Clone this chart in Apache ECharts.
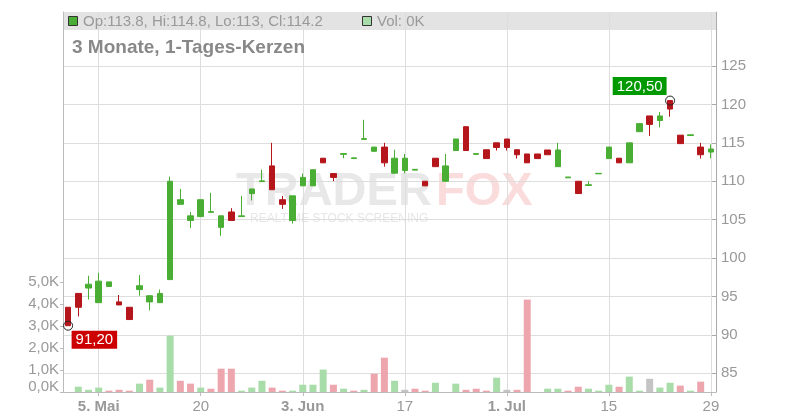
<!DOCTYPE html>
<html><head><meta charset="utf-8">
<script src="https://cdn.jsdelivr.net/npm/echarts@6/dist/echarts.min.js"></script>
<style>html,body{margin:0;padding:0;background:#fff}#c{width:800px;height:420px}</style>
</head><body><div id="c"></div>
<script>
const categories = ['29.04','30.04','02.05','05.05','06.05','07.05','09.05','12.05','13.05','14.05','15.05','16.05','19.05','20.05','21.05','22.05','23.05','26.05','27.05','28.05','29.05','30.05','02.06','03.06','04.06','05.06','06.06','09.06','10.06','11.06','12.06','13.06','16.06','17.06','18.06','19.06','20.06','23.06','24.06','25.06','26.06','27.06','30.06','01.07','02.07','03.07','04.07','07.07','08.07','09.07','10.07','11.07','14.07','15.07','16.07','17.07','18.07','21.07','22.07','23.07','24.07','25.07','28.07','29.07'];
const opens  = [93.6,95.4,96.1,94.2,96.3,94.3,93.6,95.9,94.3,94.2,97.2,107.0,104.9,105.4,105.95,104.0,106.0,105.4,108.4,109.95,112.0,107.6,104.9,109.4,109.4,113.0,111.0,113.5,112.95,115.45,113.9,114.45,111.05,111.4,111.45,110.0,113.0,110.0,114.0,117.1,113.5,114.1,115.0,115.5,114.1,113.55,113.55,114.07,111.9,110.45,110.0,109.45,110.97,112.95,113.0,112.4,116.45,118.5,117.9,120.5,116.0,115.95,114.45,113.8];
const closes = [91.2,93.6,96.6,97.0,96.9,93.9,92.0,96.4,95.1,95.4,110.0,107.6,105.5,107.6,106.05,105.5,104.9,105.5,109.0,110.05,108.9,107.0,108.1,110.5,111.5,112.4,110.5,113.6,113.05,115.55,114.45,112.4,113.0,113.0,111.55,109.4,111.9,112.0,115.5,114.0,113.6,112.95,114.4,114.4,113.45,112.4,112.95,113.45,114.07,110.55,108.4,109.55,111.03,114.45,112.4,115.0,117.5,117.4,118.5,119.4,114.9,116.05,113.45,114.2];
const lows   = [91.2,92.4,94.6,94.2,96.3,93.9,92.0,95.1,93.2,94.2,97.2,107.0,103.9,105.4,105.95,102.9,104.9,105.4,107.5,109.95,108.9,106.4,104.5,109.4,109.4,112.4,110.0,113.0,112.95,115.45,113.9,111.9,111.05,111.05,111.45,109.4,111.9,110.0,114.0,114.0,113.5,112.95,114.0,114.0,112.95,112.4,112.95,113.45,111.9,110.45,108.4,109.45,110.97,112.95,112.4,112.4,116.45,115.9,117.0,118.4,114.9,115.95,112.95,113.0];
const highs  = [93.6,95.4,97.7,98.1,96.9,95.2,93.6,97.8,95.1,95.9,110.6,109.0,106.0,107.6,108.5,105.5,106.5,108.1,109.0,111.5,115.0,108.1,108.1,111.0,111.5,113.0,111.0,113.6,113.05,118.0,114.45,115.0,114.1,113.55,111.55,110.0,113.0,113.55,115.5,117.1,113.6,114.1,115.0,115.5,114.1,113.55,113.55,114.07,115.0,110.55,110.0,110.0,111.03,114.45,113.0,115.0,117.5,118.5,119.0,120.5,116.0,116.05,115.0,114.8];
const volumes = [0,240,100,200,60,100,60,380,560,200,2560,510,380,200,150,1060,1060,60,200,510,200,60,60,330,330,1020,330,150,60,100,830,1560,510,100,150,60,420,0,380,100,150,60,650,100,100,4200,0,150,150,60,240,150,60,330,240,700,60,600,200,420,290,60,470,0];
const volumeDirections = ['u','u','u','u','d','d','d','u','d','u','u','d','d','u','d','d','d','u','u','u','d','d','u','u','u','u','d','u','d','u','d','d','u','n','d','d','u','u','u','d','d','d','u','n','d','d','u','u','u','d','d','u','u','u','d','u','u','n','u','u','d','u','d','u'];
const tickDates = ['05.05','20.05','03.06','17.06','01.07','15.07','29.07'];
const tickTexts = ['5. Mai','20','3. Jun','17','1. Jul','15','29'];
const tickBold  = [true,false,true,false,true,false,false];
const priceTickValues = [85,90,95,100,105,110,115,120,125];
const volumeTickValues = [0,1000,2000,3000,4000,5000];
const titleText = '3 Monate, 1-Tages-Kerzen';

const FONT = '"Liberation Sans", Arial, Helvetica, sans-serif';
const RED = '#b5161b', GREEN = '#49ae33';
const VOLC = {u:'#a8dca8', d:'#eea6ae', n:'#c4c4c4'};
const candleData = categories.map((c,i)=>[opens[i], closes[i], lows[i], highs[i]]);
let minI = 0, maxI = 0;
lows.forEach((v,i)=>{ if (v < lows[minI]) minI = i; });
highs.forEach((v,i)=>{ if (v > highs[maxI]) maxI = i; });
const fmt2 = v => v.toFixed(2).replace('.', ',');
const last = categories.length - 1;
const legendText = 'Op:' + opens[last] + ', Hi:' + highs[last] + ', Lo:' + lows[last] + ', Cl:' + closes[last];
const volText = 'Vol: ' + Math.round(volumes[last]/1000) + 'K';
const isTick = (idx, val) => tickDates.indexOf(categories[idx]) >= 0;

const chart = echarts.init(document.getElementById('c'), null, {renderer:'canvas'});
const option = {
  animation: false,
  textStyle: {fontFamily: FONT},
  grid: {left:63, right:84, top:12, bottom:28},
  xAxis: {
    type:'category', data:categories, boundaryGap:true,
    axisLine:{show:true, lineStyle:{color:'#bbb'}},
    axisTick:{show:true, alignWithLabel:true, interval:isTick, length:4, lineStyle:{color:'#bbb'}},
    axisLabel:{interval:isTick, color:'#999', fontSize:15, fontFamily:FONT, margin:7,
      formatter:(v)=>{ const k = tickDates.indexOf(v); if (k<0) return ''; return tickBold[k] ? '{b|'+tickTexts[k]+'}' : tickTexts[k]; },
      rich:{b:{fontWeight:'bold', color:'#999', fontSize:15, fontFamily:FONT}}},
    splitLine:{show:true, interval:isTick, alignWithLabel:true, lineStyle:{color:'#ddd'}}
  },
  yAxis: [
    {type:'value', position:'right', min:82.57, max:132.03, splitNumber:10, minInterval:5, maxInterval:5,
     axisLine:{show:true, lineStyle:{color:'#aaa'}},
     axisTick:{show:true, inside:true, length:4, customValues:priceTickValues, lineStyle:{color:'#aaa'}},
     axisLabel:{color:'#999', fontSize:15, fontFamily:FONT, margin:5, customValues:priceTickValues,
       formatter:v => (priceTickValues.indexOf(Math.round(v)) >= 0 && Math.abs(v-Math.round(v))<1e-6) ? String(Math.round(v)) : ''},
     splitLine:{show:true, lineStyle:{color:'#ddd'}}},
    {type:'value', position:'left', min:0, max:17270, interval:1000,
     axisLine:{show:true, lineStyle:{color:'#bbb'}},
     axisTick:{show:true, length:3, customValues:volumeTickValues, lineStyle:{color:'#bbb'}},
     axisLabel:{color:'#999', fontSize:15, fontFamily:FONT, margin:4, customValues:volumeTickValues,
       formatter:v => { if (v > 5000) return ''; const s = (v/1000).toFixed(1).replace('.', ',') + 'K'; return v === 0 ? '{z|'+s+'}' : s; },
       rich:{z:{color:'#999', fontSize:15, fontFamily:FONT, padding:[0,0,10,0]}}},
     splitLine:{show:false}}
  ],
  series: [
    {type:'bar', yAxisIndex:1, barWidth:7, z:1, silent:true,
     data: volumes.map((v,i)=>({value:v, itemStyle:{color:VOLC[volumeDirections[i]]}}))},
    {type:'candlestick', yAxisIndex:0, barWidth:6, z:3, silent:true, data:candleData,
     itemStyle:{color:GREEN, color0:RED, borderColor:GREEN, borderColor0:RED, borderWidth:1},
     markPoint:{silent:true, animation:false,
       data:[
         {coord:[minI, lows[minI]], symbol:'circle', symbolSize:9,
          itemStyle:{color:'rgba(0,0,0,0)', borderColor:'#222', borderWidth:1},
          label:{show:true, formatter:fmt2(lows[minI]), position:[8.5, 10], align:'left', verticalAlign:'top',
            backgroundColor:'#cc0000', color:'#fff', fontSize:15, fontFamily:FONT, padding:[2,4,1,4]}},
         {coord:[maxI, highs[maxI]], symbol:'circle', symbolSize:9,
          itemStyle:{color:'rgba(0,0,0,0)', borderColor:'#222', borderWidth:1},
          label:{show:true, formatter:fmt2(highs[maxI]), position:[1.5, -0.5], align:'right', verticalAlign:'bottom',
            backgroundColor:'#009900', color:'#fff', fontSize:15, fontFamily:FONT, padding:[2,4,1,4]}}
       ]}}
  ],
  graphic: [
    {type:'rect', z:-10, silent:true, shape:{x:63, y:12, width:653, height:18}, style:{fill:'#e3e3e3'}},
    {type:'group', z:-5, silent:true, children:[
      {type:'text', x:236, y:192, style:{text:'TRADER', font:'bold 47px '+FONT, fill:'#e8e8e8', verticalAlign:'middle'}},
      {type:'text', x:436, y:192, style:{text:'FOX', font:'bold 47px '+FONT, fill:'#fbdcdc', verticalAlign:'middle'}},
      {type:'text', x:250, y:219, style:{text:'REALTIME STOCK SCREENING', font:'12px '+FONT, fill:'#e6e6e6', verticalAlign:'middle'}}
    ]},
    {type:'rect', z:10, silent:true, shape:{x:68.5, y:16.5, width:9, height:9}, style:{fill:GREEN, stroke:'#333', lineWidth:1}},
    {type:'text', z:10, silent:true, x:83, y:21.5, style:{text:legendText, font:'15px '+FONT, fill:'#999', verticalAlign:'middle'}},
    {type:'rect', z:10, silent:true, shape:{x:362.5, y:16.5, width:9, height:9}, style:{fill:VOLC.u, stroke:'#333', lineWidth:1}},
    {type:'text', z:10, silent:true, x:377, y:21.5, style:{text:volText, font:'15px '+FONT, fill:'#999', verticalAlign:'middle'}},
    {type:'text', z:10, silent:true, x:72, y:48, style:{text:titleText, font:'bold 19px '+FONT, fill:'#888', verticalAlign:'middle'}}
  ]
};
chart.setOption(option);
</script></body></html>
